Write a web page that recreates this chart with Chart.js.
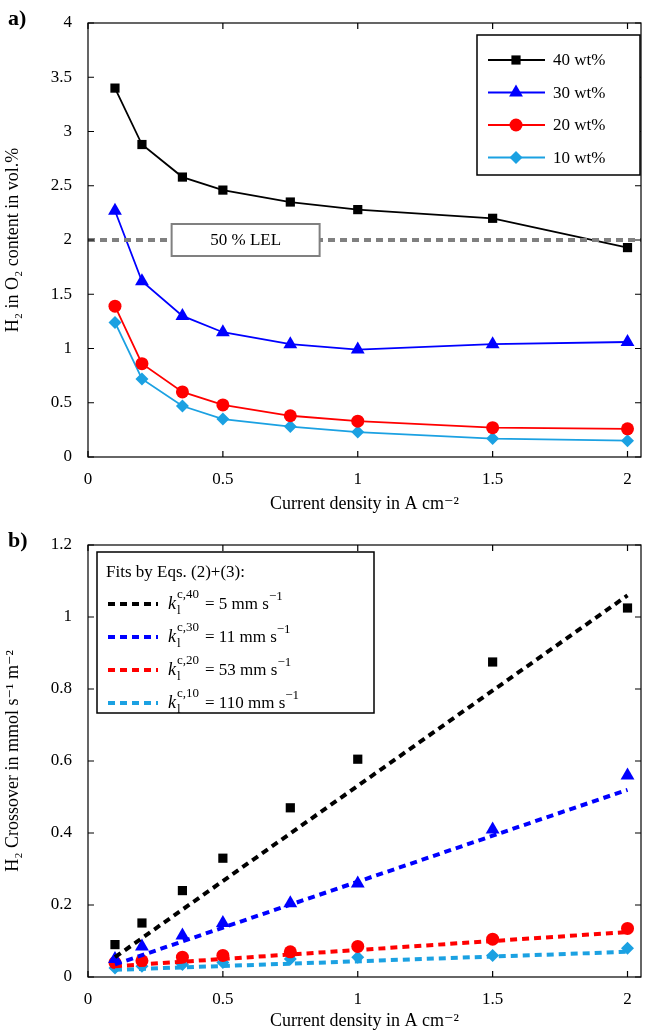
<!DOCTYPE html>
<html><head><meta charset="utf-8">
<script src="https://cdn.jsdelivr.net/npm/chart.js@4/dist/chart.umd.min.js"></script>
<style>
body{margin:0;background:#fff;width:651px;height:1034px;overflow:hidden}
.wrap{position:absolute;left:0;width:651px;height:517px}
</style></head><body>
<div class="wrap" style="top:0"><canvas id="top"></canvas></div>
<div class="wrap" style="top:517px"><canvas id="bot"></canvas></div>
<script>
const FONT = "'Liberation Serif','DejaVu Serif',serif";
const density = [0.1, 0.2, 0.35, 0.5, 0.75, 1, 1.5, 2];
const xTicks = [0, 0.5, 1, 1.5, 2];
const labels = ['40 wt%', '30 wt%', '20 wt%', '10 wt%'];
const colors = ['#000000', '#0000ff', '#ff0000', '#1ba1e2'];
const shapes = ['rect', 'triangle', 'circle', 'rectRot'];

const h2Content40 = [3.4, 2.88, 2.58, 2.46, 2.35, 2.28, 2.2, 1.93];
const h2Content30 = [2.27, 1.62, 1.3, 1.15, 1.04, 0.99, 1.04, 1.06];
const h2Content20 = [1.39, 0.86, 0.6, 0.48, 0.38, 0.33, 0.27, 0.26];
const h2Content10 = [1.24, 0.72, 0.47, 0.35, 0.28, 0.23, 0.17, 0.15];
const lel = 2;

const crossover40 = [0.09, 0.15, 0.24, 0.33, 0.47, 0.605, 0.875, 1.025];
const crossover30 = [0.05, 0.085, 0.115, 0.15, 0.205, 0.26, 0.41, 0.56];
const crossover20 = [0.04, 0.045, 0.055, 0.06, 0.07, 0.085, 0.105, 0.135];
const crossover10 = [0.025, 0.03, 0.035, 0.04, 0.05, 0.055, 0.06, 0.08];
const fitX = [0.1, 2];
const fit40 = [0.055, 1.06];
const fit30 = [0.035, 0.52];
const fit20 = [0.03, 0.125];
const fit10 = [0.02, 0.07];
const fitK = ['40', '30', '20', '10'];
const fitVal = ['5', '11', '53', '110'];

function pts(xs, ys) { return ys.map((y, i) => ({x: xs[i], y})); }

function drawTopExtras(ctx, chart) {
  const xs = chart.scales.x, ys = chart.scales.y;
  const cy = ys.getPixelForValue(lel);
  const lx = xs.getPixelForValue(0.31);
  ctx.fillStyle = '#fff'; ctx.fillRect(lx, cy - 16, 148, 32);
  ctx.strokeStyle = '#808080'; ctx.lineWidth = 2; ctx.strokeRect(lx, cy - 16, 148, 32);
  ctx.fillStyle = '#000'; ctx.font = '17px ' + FONT; ctx.textAlign = 'center';
  ctx.fillText('50 % LEL', lx + 74, cy + 1);
  ctx.textAlign = 'left';
  ctx.fillStyle = '#fff'; ctx.fillRect(477, 35, 163, 140);
  ctx.strokeStyle = '#000'; ctx.lineWidth = 1.5; ctx.strokeRect(477, 35, 163, 140);
  labels.forEach((l, i) => {
    const y = 60 + i * 32.5;
    ctx.strokeStyle = colors[i]; ctx.lineWidth = 1.8;
    ctx.beginPath(); ctx.moveTo(488, y); ctx.lineTo(545, y); ctx.stroke();
    ctx.fillStyle = colors[i];
    Chart.helpers.drawPoint(ctx, {pointStyle: shapes[i], radius: i === 1 ? 8 : 6.5, borderWidth: 0, rotation: 0}, 516, y);
    ctx.fillStyle = '#000'; ctx.font = '17px ' + FONT;
    ctx.fillText(l, 553, y + 1);
  });
}

function drawBotExtras(ctx) {
  ctx.fillStyle = '#fff'; ctx.fillRect(97, 35, 277, 161);
  ctx.strokeStyle = '#000'; ctx.lineWidth = 1.5; ctx.strokeRect(97, 35, 277, 161);
  ctx.fillStyle = '#000'; ctx.font = '17px ' + FONT; ctx.textAlign = 'left';
  ctx.fillText('Fits by Eqs. (2)+(3):', 106, 56);
  fitK.forEach((k, i) => {
    const y = 87 + i * 33;
    ctx.strokeStyle = colors[i]; ctx.lineWidth = 4; ctx.setLineDash([7, 5]);
    ctx.beginPath(); ctx.moveTo(108, y); ctx.lineTo(158, y); ctx.stroke();
    ctx.setLineDash([]);
    ctx.fillStyle = '#000';
    let x = 168;
    ctx.font = 'italic 18px ' + FONT; ctx.fillText('k', x, y); x += ctx.measureText('k').width + 1;
    ctx.font = '13px ' + FONT; ctx.fillText('l', x, y + 7);
    ctx.fillText('c,' + k, x, y - 9); x += ctx.measureText('c,' + k).width + 6;
    ctx.font = '17px ' + FONT; const t = '= ' + fitVal[i] + ' mm s';
    ctx.fillText(t, x, y + 1); x += ctx.measureText(t).width;
    ctx.font = '13px ' + FONT; ctx.fillText('\u22121', x, y - 7);
  });
}

const extras = {top: ['a)', drawTopExtras], bot: ['b)', drawBotExtras]};

const frame = {
  id: 'frame',
  afterDraw(chart) {
    const {ctx, chartArea: a, scales} = chart;
    ctx.save();
    ctx.strokeStyle = '#000'; ctx.lineWidth = 1.2;
    ctx.strokeRect(a.left, a.top, a.right - a.left, a.bottom - a.top);
    scales.x.ticks.forEach(t => {
      const p = scales.x.getPixelForValue(t.value);
      ctx.beginPath(); ctx.moveTo(p, a.bottom); ctx.lineTo(p, a.bottom - 6);
      ctx.moveTo(p, a.top); ctx.lineTo(p, a.top + 6); ctx.stroke();
    });
    scales.y.ticks.forEach(t => {
      const p = scales.y.getPixelForValue(t.value);
      ctx.beginPath(); ctx.moveTo(a.left, p); ctx.lineTo(a.left + 6, p);
      ctx.moveTo(a.right, p); ctx.lineTo(a.right - 6, p); ctx.stroke();
    });
    const [panel, draw] = extras[chart.canvas.id];
    ctx.fillStyle = '#000';
    ctx.font = 'bold 22px ' + FONT; ctx.textBaseline = 'middle';
    ctx.fillText(panel, 8, a.top - 4);
    draw(ctx, chart);
    ctx.restore();
  }
};

function axes(yMax, yStep, xH, yTitle) {
  return {
    x: {type: 'linear', min: 0, max: 2.05,
      afterBuildTicks: s => { s.ticks = xTicks.map(v => ({value: v})); },
      afterFit: s => { s.height = xH; },
      grid: {display: false}, border: {display: false},
      ticks: {color: '#000', font: {family: FONT, size: 17}, padding: 4, callback: v => String(v)},
      title: {display: true, text: 'Current density in A cm\u207B\u00B2', color: '#000', font: {family: FONT, size: 18}, padding: 2}},
    y: {min: 0, max: yMax,
      afterBuildTicks: s => { const t = []; for (let v = 0; v <= yMax + 1e-9; v += yStep) t.push({value: +v.toFixed(2)}); s.ticks = t; },
      afterFit: s => { s.width = 88; },
      grid: {display: false}, border: {display: false},
      ticks: {color: '#000', font: {family: FONT, size: 17}, padding: 8, callback: v => String(v)},
      title: {display: true, text: yTitle, color: '#000', font: {family: FONT, size: 18}, padding: 2}}
  };
}

const topSeries = [h2Content40, h2Content30, h2Content20, h2Content10];
new Chart(document.getElementById('top'), {
  type: 'line',
  plugins: [frame],
  data: {datasets: [
    {data: [{x: 0, y: lel}, {x: 2.05, y: lel}], borderColor: '#808080', borderWidth: 4, borderDash: [7, 5], pointRadius: 0},
    ...topSeries.map((s, i) => ({data: pts(density, s), borderColor: colors[i], backgroundColor: colors[i],
      borderWidth: 1.8, pointStyle: shapes[i], pointRadius: i === 1 ? 8 : 6.5, pointBorderWidth: 0}))
  ]},
  options: {responsive: true, maintainAspectRatio: false, animation: false,
    layout: {padding: {top: 23, right: 10}},
    plugins: {legend: {display: false}, tooltip: {enabled: false}},
    scales: axes(4, 0.5, 60, 'H\u2082 in O\u2082 content in vol.%')}
});

const botSeries = [crossover40, crossover30, crossover20, crossover10];
const fits = [fit40, fit30, fit20, fit10];
new Chart(document.getElementById('bot'), {
  type: 'line',
  plugins: [frame],
  data: {datasets: [
    ...fits.map((f, i) => ({data: pts(fitX, f), borderColor: colors[i], borderWidth: 4, borderDash: [7, 5], pointRadius: 0})),
    ...botSeries.map((s, i) => ({data: pts(density, s), showLine: false, backgroundColor: colors[i],
      pointStyle: shapes[i], pointRadius: i === 1 ? 8 : 6.5, pointBorderWidth: 0}))
  ]},
  options: {responsive: true, maintainAspectRatio: false, animation: false,
    layout: {padding: {top: 28, right: 10}},
    plugins: {legend: {display: false}, tooltip: {enabled: false}},
    scales: axes(1.2, 0.2, 57, 'H\u2082 Crossover in mmol s\u207B\u00B9 m\u207B\u00B2')}
});
</script></body></html>
